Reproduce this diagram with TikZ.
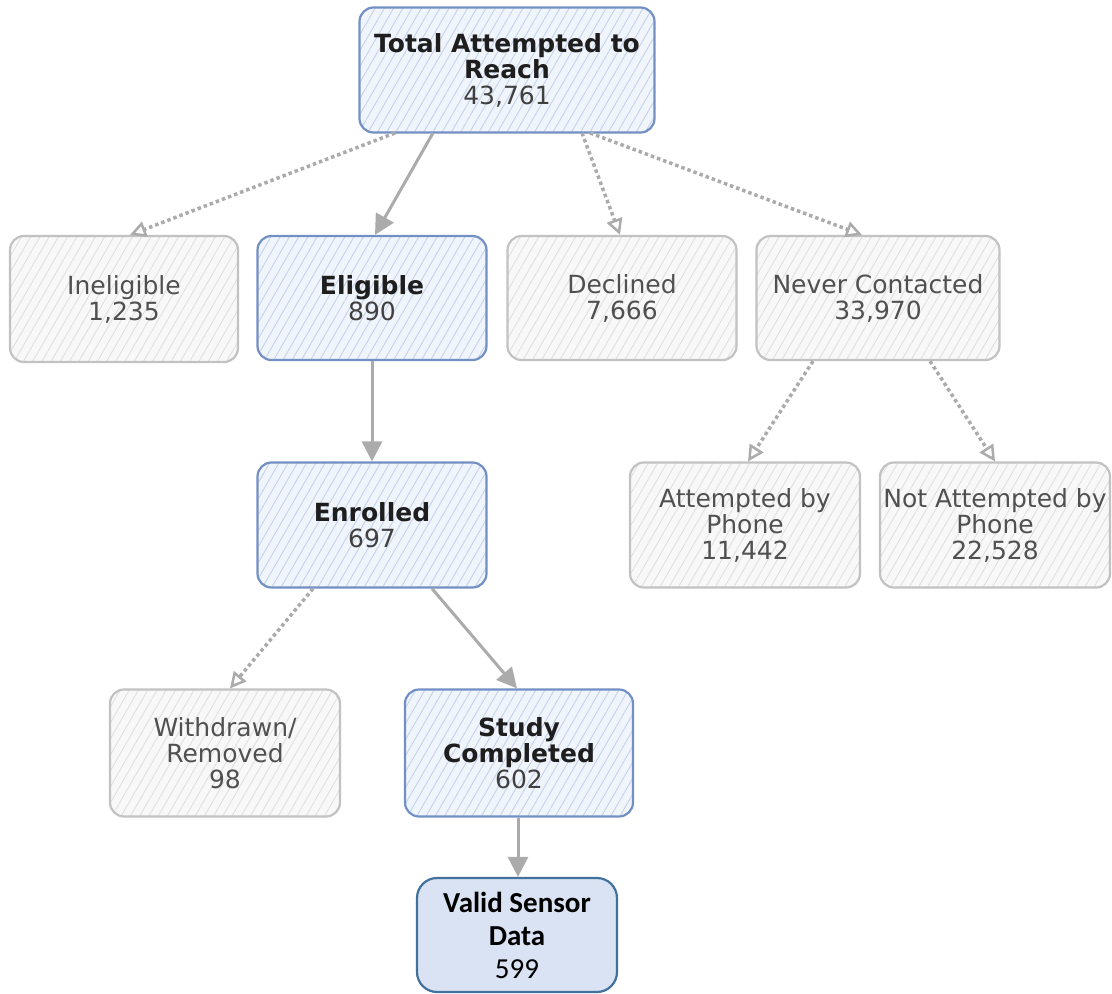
\documentclass[tikz,border=0pt]{standalone}
\usepackage{fontspec}
\setmainfont{DejaVu Sans}
\newfontfamily\calfont{Carlito}
\usetikzlibrary{arrows.meta,patterns.meta,calc}
\definecolor{bluebd}{HTML}{7390C4}
\definecolor{bluefill}{HTML}{F0F4FB}
\definecolor{bluehatch}{HTML}{C4D2EC}
\definecolor{graybd}{HTML}{C2C2C2}
\definecolor{grayfill}{HTML}{F8F8F8}
\definecolor{grayhatch}{HTML}{E0E0E0}
\definecolor{arr}{HTML}{ABABAB}
\definecolor{txt}{HTML}{1E1E1E}
\definecolor{numtxt}{HTML}{404040}
\definecolor{gtxt}{HTML}{505050}
\definecolor{validfill}{HTML}{DAE3F3}
\definecolor{validbd}{HTML}{41719C}
\newcommand\hd[1]{\textcolor{txt}{\textbf{#1}}}
\tikzset{
  box/.style={rounded corners=14pt, align=center, line width=2.2pt, inner sep=0pt,
    font=\fontsize{25}{26}\selectfont},
  bluebox/.style={box, draw=bluebd, preaction={fill=bluefill},
    pattern={Lines[angle=60,distance=8pt,line width=0.9pt]}, pattern color=bluehatch, text=numtxt},
  graybox/.style={box, draw=graybd, preaction={fill=grayfill},
    pattern={Lines[angle=60,distance=8pt,line width=0.9pt]}, pattern color=grayhatch, text=gtxt},
  validbox/.style={rounded corners=20pt, align=center, line width=2.2pt, inner sep=0pt,
    draw=validbd, fill=validfill, text=black, font=\calfont\fontsize{29}{33}\selectfont},
  solidarr/.style={draw=arr, line width=3pt, -{Triangle[length=20pt,width=20pt]}},
  dotarr/.style={draw=arr, line width=3.5pt, dash pattern=on 3.5pt off 3pt,
    -{Triangle[open,length=16pt,width=16pt,line width=2.5pt]}},
}
\begin{document}
\begin{tikzpicture}[x=1pt,y=-1pt]
\useasboundingbox (0,0) rectangle (1112,994);
\node[bluebox, minimum width=295pt, minimum height=125pt] (total) at (507,70)
  {\hd{Total Attempted to}\\\hd{Reach}\\43,761};
\node[graybox, minimum width=228pt, minimum height=126pt] (inel) at (124,299)
  {Ineligible\\1,235};
\node[bluebox, minimum width=229pt, minimum height=124pt] (elig) at (372,298)
  {\hd{Eligible}\\890};
\node[graybox, minimum width=229pt, minimum height=124pt] (decl) at (622,298)
  {Declined\\7,666};
\node[graybox, minimum width=243pt, minimum height=124pt] (never) at (878,298)
  {Never Contacted\\33,970};
\node[bluebox, minimum width=229pt, minimum height=125pt] (enr) at (372,525)
  {\hd{Enrolled}\\697};
\node[graybox, minimum width=230pt, minimum height=125pt] (att) at (745,525)
  {Attempted by\\Phone\\11,442};
\node[graybox, minimum width=230pt, minimum height=125pt] (natt) at (995,525)
  {Not Attempted by\\Phone\\22,528};
\node[graybox, minimum width=230pt, minimum height=127pt] (wd) at (225,753)
  {Withdrawn/\\Removed\\98};
\node[bluebox, minimum width=228pt, minimum height=127pt] (study) at (519,753)
  {\hd{Study}\\\hd{Completed}\\602};
\node[validbox, minimum width=200pt, minimum height=114pt] (valid) at (517,935)
  {\textbf{Valid Sensor}\\\textbf{Data}\\599};

\draw[solidarr] ([xshift=-74pt]total.south) -- ([xshift=3pt]elig.north);
\draw[dotarr] ([xshift=-112pt]total.south) -- ([xshift=6pt]inel.north);
\draw[dotarr] ([xshift=75pt]total.south) -- ([xshift=-2pt]decl.north);
\draw[dotarr] ([xshift=83pt]total.south) -- ([xshift=-16pt]never.north);
\draw[solidarr] (elig.south) -- (enr.north);
\draw[dotarr] ([xshift=-65pt]never.south) -- ([xshift=3pt]att.north);
\draw[dotarr] ([xshift=52pt]never.south) -- (natt.north);
\draw[dotarr] ([xshift=-59pt]enr.south) -- ([xshift=5pt]wd.north);
\draw[solidarr] ([xshift=60pt]enr.south) -- ([xshift=-2pt]study.north);
\draw[solidarr] ([xshift=-1pt]study.south) -- ([xshift=1pt]valid.north);
\end{tikzpicture}
\end{document}
